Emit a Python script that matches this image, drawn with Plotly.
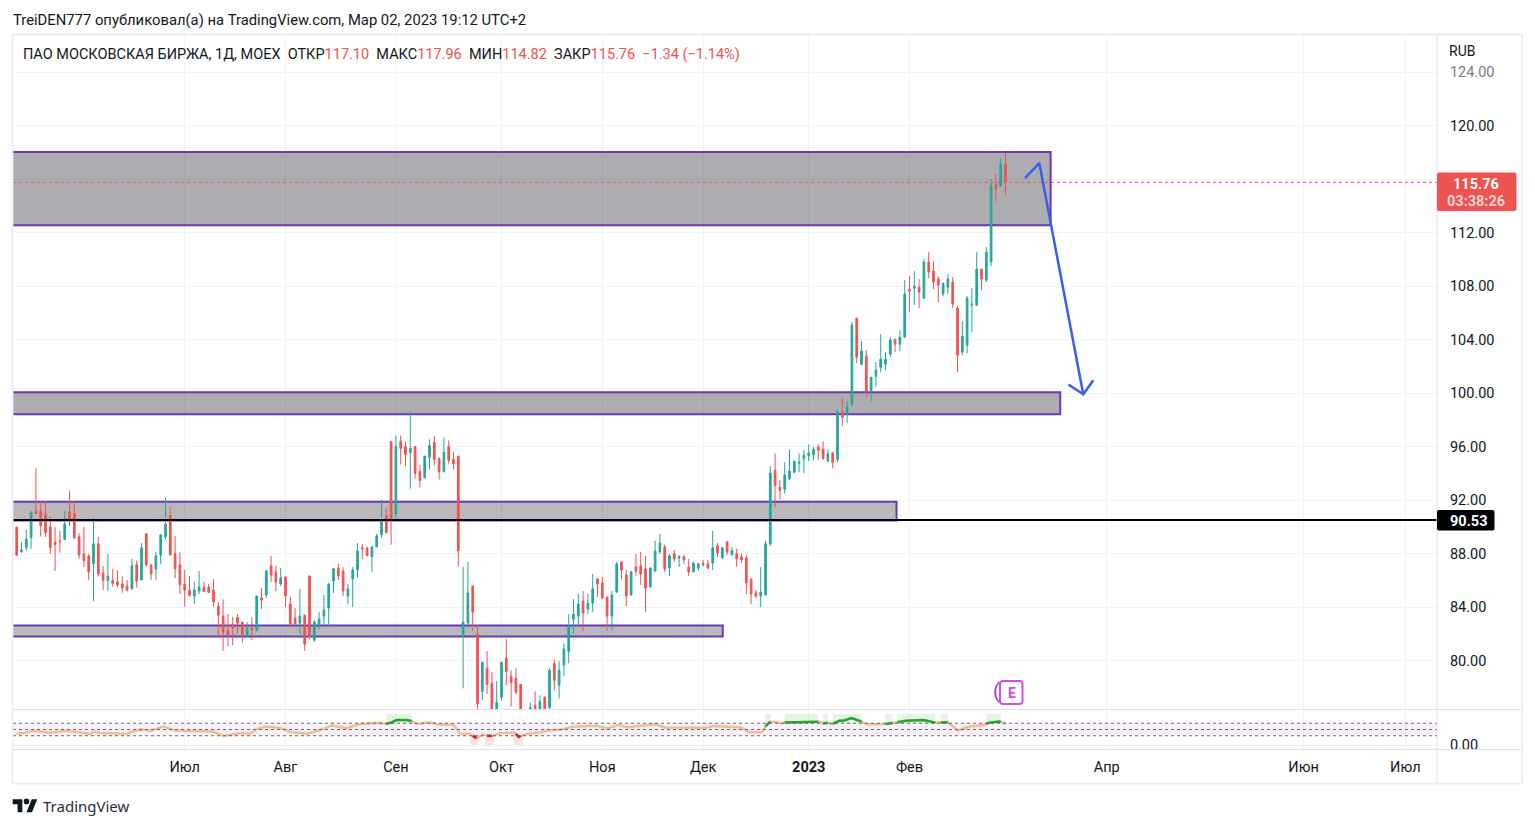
import plotly.graph_objects as go

W, H = 1535, 828
X0, X1 = 13, 1437          # price pane, pixels
Y_TOP, Y_MID, Y_BOT = 35, 709.5, 749.5

opens = [
90.0,88.15,88.48,89.22,91.22,91.22,90.92,90.02,88.88,88.95,
89.08,91.15,91.0,89.28,88.0,87.85,87.28,88.75,86.58,86.0,
86.02,85.9,85.75,85.6,85.4,87.18,86.05,89.5,87.18,86.88,
87.92,89.28,90.85,88.0,87.18,85.75,85.3,84.85,85.22,85.52,
85.52,85.3,84.1,83.35,82.3,82.75,83.25,82.9,81.85,82.45,
82.3,84.7,84.92,87.1,86.65,85.75,86.28,84.25,83.2,82.82,
83.42,86.35,81.55,82.68,83.35,83.95,85.98,86.95,86.72,84.85,
86.12,86.8,88.45,88.45,87.78,88.52,89.42,90.85,96.4,90.98,
96.4,96.02,95.58,96.02,94.15,93.7,95.2,96.32,95.12,94.15,
96.02,95.05,95.28,81.85,82.82,85.6,82.0,77.72,79.45,78.32,
75.9,77.28,80.2,78.85,78.7,78.25,76.2,76.0,76.68,76.0,
77.28,76.52,79.82,78.18,79.68,80.72,83.12,83.35,84.48,83.88,
84.32,86.12,85.82,84.78,83.35,85.15,87.4,86.42,84.92,87.02,
87.1,86.88,85.52,86.72,88.15,88.52,86.95,88.0,87.68,87.78,
87.02,86.65,86.95,87.3,87.25,87.32,88.6,87.7,88.9,87.92,
88.0,87.78,87.7,86.12,85.08,84.85,84.92,88.75,94.25,92.97,
92.82,93.62,94.09,94.77,95.12,95.32,95.41,95.99,95.81,94.92,
95.54,95.06,98.58,98.43,99.18,105.61,102.17,102.77,100.12,101.27,
101.95,102.17,102.92,104.04,103.67,104.19,107.78,107.85,107.93,107.11,
109.8,109.13,108.53,107.41,107.93,108.3,106.36,103.07,103.59,106.58,
106.58,109.28,108.45,109.8,115.56,115.49,117.10]

highs = [
90.0,88.88,89.8,91.22,94.42,91.92,91.92,90.8,90.0,89.72,
91.22,92.72,91.92,89.55,90.02,88.0,90.68,89.28,87.08,88.0,
86.88,86.78,86.32,86.05,87.62,87.48,88.8,89.5,87.18,88.15,
89.42,92.18,91.55,89.35,88.12,86.8,86.35,85.92,86.72,85.92,
85.75,86.12,84.4,84.6,83.5,83.3,83.5,82.9,82.9,83.28,
84.85,85.45,86.8,87.85,87.1,86.95,86.28,84.78,83.95,85.38,
83.42,86.35,83.05,83.65,84.92,85.82,86.95,87.25,87.0,85.75,
87.02,88.8,88.75,88.52,88.6,89.5,92.05,91.45,96.4,96.85,
96.85,96.4,98.6,96.02,94.6,95.35,96.55,96.78,95.2,96.7,
96.48,95.58,95.35,87.02,87.4,85.6,82.68,79.9,80.72,79.15,
78.48,79.9,81.62,79.3,79.45,78.25,76.3,76.9,77.72,77.42,
77.35,79.45,80.12,79.98,81.32,83.5,84.62,85.0,85.22,85.0,
86.5,86.2,86.28,84.78,85.22,87.4,87.4,86.8,86.72,88.0,
88.15,87.85,86.95,88.98,89.5,88.68,88.0,88.3,87.92,87.92,
87.62,87.4,87.32,87.55,87.55,89.72,88.8,88.52,88.9,88.52,
88.38,88.0,87.92,86.12,85.3,87.02,88.98,94.54,95.49,93.5,
94.84,95.8,95.0,95.49,95.79,96.19,95.99,96.19,96.41,95.79,
95.61,98.8,99.62,99.4,105.31,105.61,103.89,103.22,101.2,102.32,
104.41,103.07,104.19,104.04,104.71,108.45,108.75,109.13,108.53,110.02,
110.55,109.88,108.75,108.23,108.9,108.68,106.51,105.39,107.26,107.86,
110.55,109.28,110.92,116.0,116.38,117.58,117.96]

lows = [
87.85,88.1,88.25,88.38,91.0,89.3,89.25,88.0,86.72,88.1,
89.05,90.05,89.12,87.62,87.05,86.05,84.48,86.3,85.3,85.25,
85.55,85.5,85.1,85.18,85.3,85.48,86.05,87.05,86.05,86.05,
87.25,89.05,87.92,86.18,85.0,84.05,84.8,84.25,85.0,85.15,
85.1,84.05,81.75,80.75,81.1,81.18,82.05,81.35,81.75,81.55,
82.22,83.88,84.7,85.9,85.22,85.6,84.02,82.6,82.6,82.0,
80.75,81.62,81.42,82.38,82.68,82.55,85.08,86.05,84.85,84.25,
84.02,86.2,87.62,87.85,86.65,88.52,89.2,89.58,88.68,90.6,
94.68,94.55,92.88,93.62,92.95,93.62,94.3,94.6,93.55,94.08,
94.75,94.3,87.05,77.95,82.45,82.22,76.2,77.05,77.55,75.6,
75.6,77.05,78.18,76.6,77.5,75.8,75.9,75.8,75.8,75.8,
75.8,76.35,77.8,77.2,78.85,79.82,82.05,82.55,82.22,83.5,
83.65,84.78,84.62,82.22,82.3,85.08,86.12,84.1,84.92,86.35,
85.68,83.65,85.52,86.65,88.0,86.65,86.35,87.4,87.02,87.25,
86.35,86.65,86.72,87.05,86.88,86.8,87.78,87.62,87.92,87.92,
87.02,87.32,85.0,84.25,84.7,84.02,84.92,88.6,91.5,92.07,
92.5,93.5,94.07,94.09,94.04,94.94,94.99,94.99,95.04,94.92,
94.39,94.84,97.53,97.76,99.03,102.24,102.09,99.63,99.4,100.52,
101.57,101.72,102.69,103.07,103.14,104.19,106.06,106.58,106.36,107.03,
108.6,107.78,106.81,107.26,107.41,106.36,101.57,102.84,102.99,104.56,
106.58,107.71,108.3,109.5,114.36,115.49,114.82]

closes = [
87.9,88.3,89.1,91.08,91.0,90.12,89.6,88.48,88.7,88.9,
90.22,90.5,89.2,87.92,87.48,86.65,88.75,86.5,86.02,86.32,
85.8,85.68,85.45,85.3,87.1,85.98,88.45,87.18,86.5,87.85,
89.42,90.22,87.92,86.88,85.68,85.3,84.9,85.3,85.52,85.2,
85.12,84.4,83.42,82.18,81.85,82.45,82.82,81.98,82.45,82.3,
84.85,84.55,86.72,86.42,85.9,86.2,84.85,82.75,82.75,83.35,
81.25,81.78,82.9,83.12,83.8,85.75,86.88,86.35,85.22,85.38,
86.8,88.22,88.38,87.85,88.52,89.35,90.52,89.58,90.55,96.02,
95.88,95.42,95.88,94.0,93.48,95.28,96.1,95.05,94.15,95.58,
94.98,94.75,88.22,82.9,85.08,83.65,76.82,79.9,78.25,75.9,
76.9,79.9,79.22,78.4,77.65,75.9,76.0,76.52,76.0,76.98,
76.0,79.3,78.55,79.3,80.88,82.52,83.5,84.25,83.58,84.32,
85.38,85.75,84.7,83.35,84.92,87.25,86.8,84.85,86.65,86.72,
86.5,85.45,86.95,88.22,88.82,86.88,87.85,87.62,87.8,87.55,
86.65,87.32,87.25,87.18,86.95,88.45,88.08,88.45,88.15,88.22,
87.62,87.55,85.82,85.0,84.85,85.15,88.75,94.04,93.12,92.75,
93.87,94.17,94.9,94.85,95.37,95.54,95.81,95.74,95.12,95.49,
94.84,98.58,98.2,98.95,105.09,102.69,103.14,100.15,101.2,101.72,
102.54,102.54,103.97,103.67,104.19,107.41,107.63,108.0,107.56,109.8,
109.05,108.3,108.08,108.23,108.53,106.66,102.84,104.26,107.11,106.66,
109.28,108.53,110.55,115.49,115.26,117.13,115.76]

bar_index = list(range(len(opens)))

# Indicator readings (bar position, value)
rsi_x = [0,1.4,3.5,6.9,10.4,15.3,16,17.4,22.9,24.3,26,27.8,30.5,33.3,41,43,46.5,48.6,50,52,54.9,57,60.4,63.2,65.6,68.7,71.5,75.7,
         77,78,79.2,81.2,82.3,83.3,86.1,88.2,91,92.4,94.4,95,95.8,97.2,98,99,100.7,103.6,104,104.6,105,106.4,109.3,110.7,113.6,115.8,
         120.8,123,125.4,127.2,133,135.1,143.7,145.2,150.9,152.7,155.2,156,157,159.5,160,167,168,169,170,171.4,172.4,173.9,176,177.1,
         181,182.5,183.5,185.3,188.9,191.4,192.5,194,196.1,198.3,201.5,202,202.6,204.7,205,206]
rsi_y = [36.4,38.7,45.6,39.8,45.6,36.4,43.3,38.7,36.4,44.5,50.3,45.6,59.6,45.6,43.3,29.4,38.7,36.4,50.3,59.6,54.9,42.2,36.4,48,63,53.8,67.7,71.2,
         68,72,80.4,80.4,77,67.7,73.5,65.4,65.4,36.4,36.4,30,22.4,34,30,29,38,40,36,26,30,36.7,41,46.7,50,58.9,
         62.2,53.4,64.4,56.7,66.7,56.7,55.6,61,56.7,41,41,60,75.5,70,72,75,70,71,68,77.8,79,86.7,75.5,66.7,
         67.8,71,73,77.8,80,72,72,73.3,46.7,58.9,64.4,68,72,75.5,74,69]
assert len(rsi_x) == len(rsi_y)
green_bands = [(77, 82.3), (156, 157), (160, 167), (168, 169), (170, 176), (181, 182.5), (183.5, 191.4), (192.5, 194), (202, 205)]
red_bands = [(95, 95.8), (98, 99), (104, 105)]
rsi_levels = [70, 50, 30]

# Zones: (top, bottom, right bar position, fill)
zones = [
    (118.02, 112.56, 215.4, "rgba(10,10,20,0.335)"),
    (100.07, 98.43, 217.4, "rgba(10,10,20,0.335)"),
    (91.89, 90.5, 183.3, "rgba(30,20,30,0.30)"),
    (82.65, 81.83, 147.1, "rgba(30,20,30,0.30)"),
]
arrow_x = [210.06, 213.04, 222.2]
arrow_y = [116.07, 117.2, 99.93]
arrow_head_x = [219.1, 222.2, 224.3]
arrow_head_y = [100.65, 99.93, 100.97]
level_price = 90.53
last_price = 115.76

price_ticks = [124, 120, 116, 112, 108, 104, 100, 96, 92, 88, 84, 80]
price_labels = ["<span style='color:#787b86'>124.00</span>", "120.00", "", "112.00", "108.00", "104.00", "100.00", "96.00", "92.00", "88.00", "84.00", "80.00"]
time_ticks = [35, 56, 79, 101, 122, 143, 165, 186, 227.1, 268.1, 289.3]
time_labels = ["Июл", "Авг", "Сен", "Окт", "Ноя", "Дек", "<b>2023</b>", "Фев", "Апр", "Июн", "Июл"]

FONT = "Roboto"
TXT = "#131722"
GRID = "#f0f3fa"
UP, DOWN = "#26a69a", "#ef5350"
LINE = "#dfe1e6"
X_LO, X_HI = (X0 - 16.7) / 4.8, (X1 - 16.7) / 4.8


def px(x):
    return x / W


def py(y):
    return 1 - y / H


def rrect(x0, y0, x1, y1, r):
    a, b, c, d = px(x0), py(y0), px(x1), py(y1)
    rx, ry = r / W, r / H
    return (f"M{a+rx},{b} L{c-rx},{b} Q{c},{b} {c},{b-ry} L{c},{d+ry} Q{c},{d} {c-rx},{d} "
            f"L{a+rx},{d} Q{a},{d} {a},{d+ry} L{a},{b-ry} Q{a},{b} {a+rx},{b} Z")


fig = go.Figure()
fig.add_trace(go.Candlestick(
    x=bar_index, open=opens, high=highs, low=lows, close=closes,
    increasing=dict(line=dict(color=UP, width=1), fillcolor=UP),
    decreasing=dict(line=dict(color=DOWN, width=1), fillcolor=DOWN),
    whiskerwidth=0, showlegend=False, xaxis="x", yaxis="y"))

for xs, ys in [(arrow_x, arrow_y), (arrow_head_x, arrow_head_y)]:
    fig.add_trace(go.Scatter(x=xs, y=ys, mode="lines", line=dict(color="#3a60ea", width=2.5),
                             showlegend=False, xaxis="x", yaxis="y"))

fig.add_trace(go.Scatter(x=rsi_x, y=rsi_y, mode="lines", line=dict(color="#f4bd90", width=2.5),
                         showlegend=False, xaxis="x", yaxis="y2"))
for bands, col in [(green_bands, "#1faa2e"), (red_bands, "#d8141c")]:
    for s, e in bands:
        pts = [(a, b) for a, b in zip(rsi_x, rsi_y) if s <= a <= e]
        fig.add_trace(go.Scatter(x=[p[0] for p in pts], y=[p[1] for p in pts], mode="lines",
                                 line=dict(color=col, width=2.5), showlegend=False, xaxis="x", yaxis="y2"))

shapes = []
for top, bot, right, fill in zones:
    shapes.append(dict(type="rect", xref="x", yref="y", x0=-20, x1=right, y0=bot, y1=top, layer="between",
                       fillcolor=fill, line=dict(color="#673ab7", width=2)))
shapes.append(dict(type="rect", xref="x", yref="y2", x0=X_LO, x1=X_HI, y0=rsi_levels[2], y1=rsi_levels[0], layer="between",
                   fillcolor="rgba(126,87,194,0.08)", line=dict(width=0)))
for s, e in green_bands:
    shapes.append(dict(type="rect", xref="x", yref="y2", x0=s, x1=e, y0=70, y1=100, layer="between",
                       fillcolor="rgba(76,175,80,0.14)", line=dict(width=0)))
for s, e in red_bands:
    shapes.append(dict(type="rect", xref="x", yref="y2", x0=s - 0.4, x1=e + 0.4, y0=0, y1=30, layer="between",
                       fillcolor="rgba(239,83,80,0.16)", line=dict(width=0)))
for lv in rsi_levels:
    shapes.append(dict(type="line", xref="x", yref="y2", x0=X_LO, x1=X_HI, y0=lv, y1=lv,
                       line=dict(color="#7c5a86", width=1, dash="dot")))
shapes.append(dict(type="line", xref="x", yref="y", x0=X_LO, x1=X_HI, y0=last_price, y1=last_price,
                   line=dict(color=DOWN, width=1, dash="dot")))
shapes.append(dict(type="line", xref="x", yref="y", x0=X_LO, x1=X_HI, y0=level_price, y1=level_price,
                   line=dict(color="#000000", width=2)))

# frame and pane separators
for x0, y0, x1, y1, c, w in [
    (13, 34.5, 1522, 34.5, "#eceef1", 2), (13, 783.5, 1522, 783.5, "#eceef1", 2),
    (12.5, 34, 12.5, 784, "#eceef1", 2), (1522, 34, 1522, 784, "#eceef1", 2),
    (1437, 35, 1437, 783, LINE, 1), (13, 709.5, 1522, 709.5, LINE, 1), (13, 749.5, 1522, 749.5, LINE, 1)]:
    shapes.append(dict(type="line", xref="paper", yref="paper", x0=px(x0), x1=px(x1), y0=py(y0), y1=py(y1),
                       line=dict(color=c, width=w)))

# price labels
shapes.append(dict(type="path", xref="paper", yref="paper", path=rrect(1437, 172.5, 1516.5, 211, 2), fillcolor=DOWN, line=dict(width=0)))
shapes.append(dict(type="path", xref="paper", yref="paper", path=rrect(1437, 510, 1494.5, 530.5, 2), fillcolor="#000000", line=dict(width=0)))
# earnings marker
shapes.append(dict(type="path", xref="paper", yref="paper", path=rrect(1000, 681, 1022.5, 704, 3), fillcolor="#ffffff",
                   line=dict(color="#d64ce8", width=2)))
# logo
sc_x, sc_y = 0.69, 0.72
def lx(u):
    return px(12.7 + u * sc_x)
def ly(v):
    return py(799.3 + (v - 4) * sc_y)
logo1 = f"M{lx(14)},{ly(22)} L{lx(7)},{ly(22)} L{lx(7)},{ly(11)} L{lx(0)},{ly(11)} L{lx(0)},{ly(4)} L{lx(14)},{ly(4)} Z"
logo2 = f"M{lx(28)},{ly(22)} L{lx(20)},{ly(22)} L{lx(27.5)},{ly(4)} L{lx(35.5)},{ly(4)} Z"
for p in (logo1, logo2):
    shapes.append(dict(type="path", xref="paper", yref="paper", path=p, fillcolor=TXT, line=dict(width=0)))
shapes.append(dict(type="circle", xref="paper", yref="paper", x0=lx(16), x1=lx(24), y0=ly(11), y1=ly(3),
                   fillcolor=TXT, line=dict(width=0)))


def note(x, y, text, size=13, color=TXT, anchor="left", family=FONT):
    return dict(xref="paper", yref="paper", x=px(x), y=py(y), text=text, showarrow=False, xanchor=anchor, yanchor="middle",
                font=dict(family=family, size=size, color=color), borderpad=0, align="left")


RED = "#ef5350"
header = ("ПАО МОСКОВСКАЯ БИРЖА, 1Д, MOEX  ОТКР"
          f"<span style='color:{RED}'>117.10</span>  МАКС<span style='color:{RED}'>117.96</span>  "
          f"МИН<span style='color:{RED}'>114.82</span>  ЗАКР<span style='color:{RED}'>115.76</span>  "
          f"<span style='color:{RED}'>−1.34 (−1.14%)</span>")
annotations = [
    note(12, 20, "TreiDEN777 опубликовал(а) на TradingView.com, Мар 02, 2023 19:12 UTC+2", 14.8),
    note(22, 55, header, 14.5),
    note(1448, 51, "RUB", 14),
    note(1475.5, 184, "<b>115.76</b>", 14.5, "#ffffff", "center"),
    note(1475.5, 202, "<b>03:38:26</b>", 14.5, "#fbd5d4", "center"),
    note(1468, 521, "<b>90.53</b>", 14.5, "#ffffff", "center"),
    note(1011.5, 692.5, "<b>E</b>", 14, "#d64ce8", "center"),
    note(996, 691, "(", 20, "#a33cc4", "center"),
    note(42, 806, "TradingView", 15, "#2a2e39", family="Noto Sans"),
]

fig.update_layout(
    width=W, height=H, autosize=False, margin=dict(l=0, r=0, t=0, b=0, pad=0, autoexpand=False),
    paper_bgcolor="#ffffff", plot_bgcolor="#ffffff", boxgap=0.5, showlegend=False,
    font=dict(family=FONT, size=13, color=TXT),
    xaxis=dict(domain=[px(X0), px(X1)], range=[X_LO, X_HI], anchor="y2",
               tickmode="array", tickvals=time_ticks, ticktext=time_labels, ticks="outside", ticklen=4,
               tickcolor="rgba(0,0,0,0)", showgrid=True, gridcolor=GRID, gridwidth=1, zeroline=False,
               showline=False, rangeslider=dict(visible=False), tickfont=dict(family=FONT, size=14.5, color=TXT), tickangle=0),
    yaxis=dict(domain=[py(Y_MID), py(Y_TOP)], range=[76.37, 126.77], side="right", anchor="x",
               tickmode="array", tickvals=price_ticks, ticktext=price_labels, ticks="outside", ticklen=9,
               tickcolor="rgba(0,0,0,0)", showgrid=True, gridcolor=GRID, zeroline=False, showline=False,
               tickfont=dict(family=FONT, size=14.5, color=TXT)),
    yaxis2=dict(domain=[py(Y_BOT), py(Y_MID)], range=[-14, 114], side="right", anchor="x",
                tickmode="array", tickvals=[0], ticktext=["0.00"], ticks="outside", ticklen=9,
                tickcolor="rgba(0,0,0,0)", showgrid=True, gridcolor=GRID, zeroline=False, showline=False,
                tickfont=dict(family=FONT, size=14.5, color=TXT)),
    shapes=shapes, annotations=annotations,
)
fig.write_html("out.html", config=dict(displayModeBar=False, responsive=False),
               post_script="document.body.style.margin='0';document.body.style.overflow='hidden';")
